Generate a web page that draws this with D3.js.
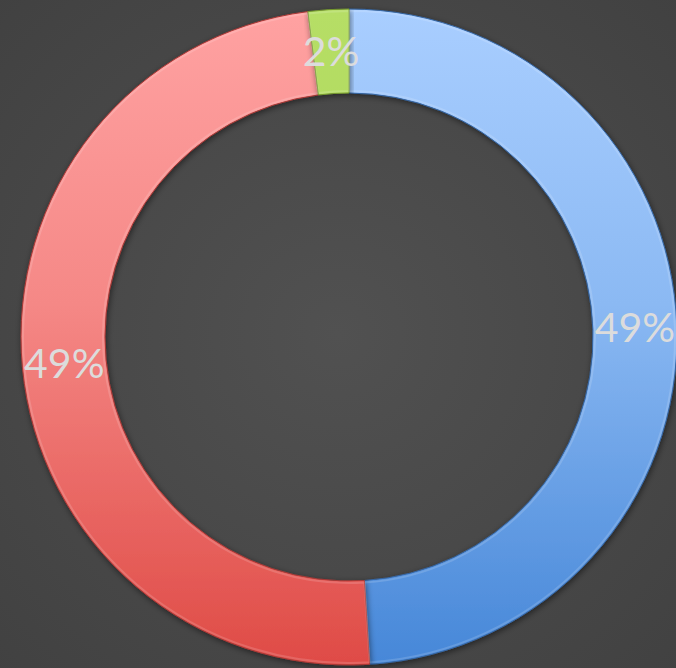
<!DOCTYPE html>
<html>
<head>
<meta charset="utf-8">
<script src="https://cdn.jsdelivr.net/npm/d3@7"></script>
<style>
    html, body { margin: 0; padding: 0; background: #444; overflow: hidden; }
</style>
</head>
<body>
<div class="donut-chart"></div>
<script>
(function() {

    // slice data
    var categories = ["Blue", "Red", "Green"];
    var values = [49, 49, 2];
    var labels = ["49%", "49%", "2%"];

    var topColors = ["#a9ceff", "#ffa2a2", "#b6de66"];
    var bottomColors = ["#4687d8", "#df4b46", "#9ac93e"];

    var width = 676, height = 668;
    var cx = 349, cy = 337;
    var outerR = 328, innerR = 244;

    var svg = d3.select(".donut-chart")
        .append("svg")
        .attr("width", width)
        .attr("height", height);

    var defs = svg.append("defs");

    // dark radial background
    var bg = defs.append("radialGradient")
        .attr("id", "bg")
        .attr("cx", "50%").attr("cy", "50%").attr("r", "72%");
    bg.append("stop").attr("offset", "0%").attr("stop-color", "#515151");
    bg.append("stop").attr("offset", "100%").attr("stop-color", "#414141");

    svg.append("rect")
        .attr("width", width)
        .attr("height", height)
        .attr("fill", "url(#bg)");

    // one vertical gradient per slice (coords in the chart group's space)
    categories.forEach(function(c, i) {
        var g = defs.append("linearGradient")
            .attr("id", "grad" + i)
            .attr("gradientUnits", "userSpaceOnUse")
            .attr("x1", 0).attr("y1", -outerR)
            .attr("x2", 0).attr("y2", outerR);
        g.append("stop").attr("offset", "0%").attr("stop-color", topColors[i]);
        g.append("stop").attr("offset", "45%").attr("stop-color", d3.interpolateRgb(topColors[i], bottomColors[i])(0.3));
        g.append("stop").attr("offset", "100%").attr("stop-color", bottomColors[i]);
    });

    // soft shadow under the ring
    var shadow = defs.append("filter")
        .attr("id", "shadow")
        .attr("x", "-10%").attr("y", "-10%").attr("width", "120%").attr("height", "120%");
    shadow.append("feGaussianBlur").attr("in", "SourceAlpha").attr("stdDeviation", 3).attr("result", "blur");
    shadow.append("feOffset").attr("in", "blur").attr("dx", 1).attr("dy", 2).attr("result", "off");
    shadow.append("feComponentTransfer").attr("in", "off").attr("result", "soft")
        .append("feFuncA").attr("type", "linear").attr("slope", 0.5);
    var merge = shadow.append("feMerge");
    merge.append("feMergeNode").attr("in", "soft");
    merge.append("feMergeNode").attr("in", "SourceGraphic");

    var chart = svg.append("g")
        .attr("transform", "translate(" + cx + "," + cy + ")");

    var pie = d3.pie()
        .sort(null)
        .value(function(d) { return d; });

    var arc = d3.arc()
        .outerRadius(outerR)
        .innerRadius(innerR);

    // thin bevel band just inside each slice edge
    var bevel = d3.arc()
        .outerRadius(outerR - 2)
        .innerRadius(innerR + 2);

    var arcs = pie(values);

    var g = chart.selectAll(".arc")
        .data(arcs)
        .enter().append("g")
        .attr("class", "arc");

    g.append("path")
        .attr("d", arc)
        .attr("fill", function(d, i) { return "url(#grad" + i + ")"; })
        .attr("filter", "url(#shadow)")
        .attr("stroke", function(d, i) { return d3.rgb(bottomColors[i]).darker(0.8); })
        .attr("stroke-width", 1);

    g.append("path")
        .attr("d", bevel)
        .attr("fill", "none")
        .attr("stroke", "#ffffff")
        .attr("stroke-opacity", 0.15)
        .attr("stroke-width", 2);

    // labels sit at the centroid of each slice
    g.append("text")
        .attr("transform", function(d) {
            return "translate(" + arc.centroid(d) + ")";
        })
        .attr("dy", ".35em")
        .style("text-anchor", "middle")
        .style("font-family", "Lato, 'Open Sans', sans-serif")
        .style("font-size", "41px")
        .attr("fill", "#dcdcdc")
        .text(function(d, i) { return labels[i]; });

})();
</script>
</body>
</html>
